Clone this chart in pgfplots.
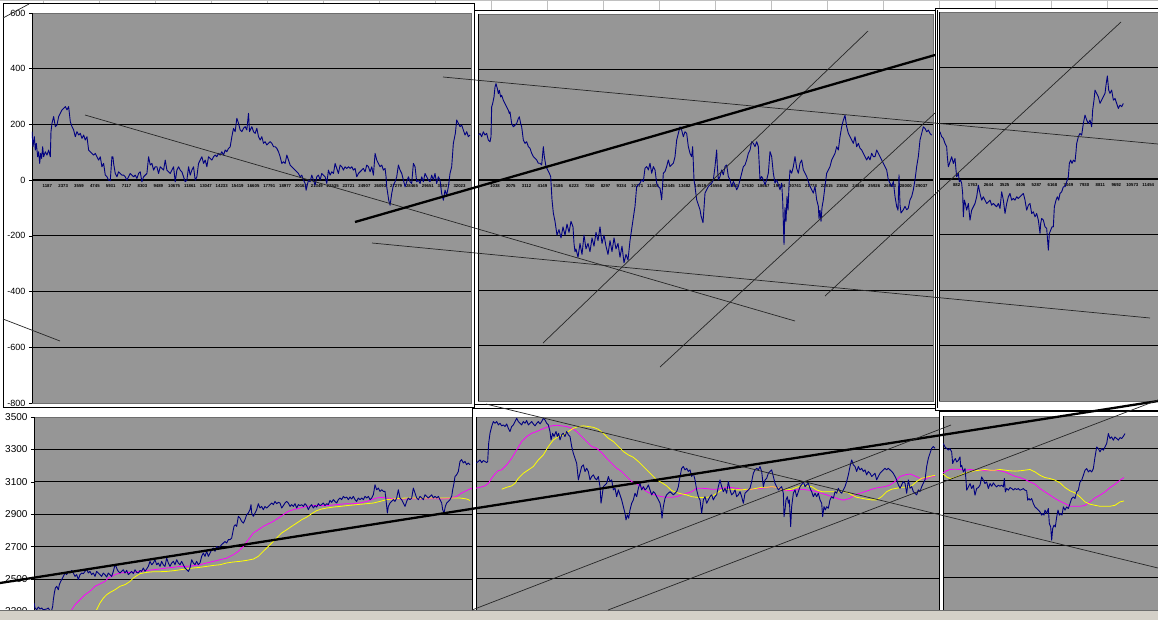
\documentclass[border=0pt]{standalone}
\usepackage{fontspec}
\setmainfont{Liberation Sans}
\usepackage{pgfplots}
\pgfplotsset{compat=1.18}
\definecolor{plotgray}{RGB}{150,150,150}
\definecolor{navyx}{RGB}{0,0,128}
\definecolor{mag}{RGB}{255,0,255}
\definecolor{yel}{RGB}{255,255,0}
\definecolor{statusbar}{RGB}{212,208,200}
\definecolor{cellgrid}{RGB}{192,192,192}
\definecolor{pborder}{RGB}{110,110,110}
\pgfplotsset{
  toppanel/.style={
    scale only axis, no markers,
    ymin=-800, ymax=600,
    axis x line*=middle, axis y line*=left,
    x axis line style={line width=2pt, black},
    y axis line style={black, line width=0.8pt},
    axis background/.style={fill=plotgray, draw=pborder},
    xtick style={draw=none},
    xticklabel style={font=\fontsize{4.3}{5}\selectfont\bfseries, inner sep=1pt},
    tick align=outside, major tick length=3pt,
    ytick style={black, line width=0.6pt},
    extra y ticks={-600,-400,-200,200,400},
    extra y tick labels={},
    extra y tick style={grid=major, major tick length=0pt},
    major grid style={black, line width=0.8pt},
    yticklabel style={font=\fontsize{9}{10}\selectfont},
  },
  botpanel/.style={
    scale only axis, no markers,
    ymin=2200, ymax=3500, xtick=\empty,
    axis x line*=bottom, x axis line style={draw=none},
    axis y line*=left, y axis line style={black, line width=0.8pt},
    axis background/.style={fill=plotgray, draw=pborder},
    tick align=outside, major tick length=3pt,
    ytick style={black, line width=0.6pt},
    extra y ticks={2500,2700,2900,3100,3300},
    extra y tick labels={},
    extra y tick style={grid=major, major tick length=0pt},
    major grid style={black, line width=0.8pt},
    yticklabel style={font=\fontsize{10}{11}\selectfont},
  },
  navyline/.style={navyx, line width=0.9pt, line join=round},
  magline/.style={mag, line width=0.8pt},
  yelline/.style={yel, line width=0.8pt},
}
\begin{document}
\begin{tikzpicture}
\useasboundingbox (0pt,0pt) rectangle (1158pt,-620pt);
\clip (0pt,0pt) rectangle (1158pt,-620pt);
\begin{scope}[x=1pt,y=1pt]
\fill[white] (0,0) rectangle (1158,-620);
\foreach \x in {43,99,...,1107} \draw[cellgrid, line width=0.8pt] (\x,0) -- (\x,-14);
\draw[cellgrid, line width=0.8pt] (0,-0.5) -- (1158,-0.5);
\filldraw[fill=white, draw=black, line width=0.8pt] (3,-3) rectangle (474,-407);
\end{scope}

% ---------- Panel 1 (top left)
\begin{axis}[toppanel, at={(32pt,-13pt)}, anchor=north west, width=439pt, height=390pt,
  xmin=95, xmax=1413,
  ytick={-800,-600,-400,-200,0,200,400,600},
  yticklabels={-800,-600,-400,-200,0,200,400,600},
  xtick={141,188.6,...,1380},
  xticklabels={1187,2373,3559,4745,5931,7117,8303,9489,10675,11861,13047,14233,15419,16605,17791,18977,20163,21349,22535,23721,24907,26093,27279,28465,29651,30837,32023}]
\addplot[navyline] coordinates {(95,174)(98,120)(102,156)(105,108)(108,132)(112,84)(115,102)(118,60)(121,96)(124,78)(127,120)(130,84)(135,102)(140,90)(145,108)(150,84)(152,174)(155,204)(160,228)(165,192)(170,198)(175,228)(180,240)(185,252)(190,258)(195,264)(200,252)(205,264)(210,210)(215,192)(220,180)(225,156)(230,174)(235,162)(240,168)(245,150)(250,162)(255,144)(260,156)(265,108)(270,102)(275,96)(280,90)(285,96)(290,84)(295,72)(300,84)(305,48)(310,60)(315,18)(320,12)(325,0)(330,-2)(335,84)(338,84)(340,60)(345,24)(350,12)(355,30)(360,24)(365,18)(370,18)(375,12)(380,0)(385,12)(390,24)(395,18)(400,12)(405,18)(410,6)(415,24)(420,30)(425,-6)(430,12)(440,24)(445,84)(450,54)(455,60)(460,36)(465,48)(470,48)(475,24)(480,48)(490,36)(495,72)(500,36)(505,30)(510,24)(515,36)(520,48)(525,-6)(530,36)(535,48)(540,36)(545,30)(550,12)(555,-6)(560,0)(565,48)(570,18)(575,36)(580,48)(585,0)(590,12)(595,60)(600,72)(605,84)(610,60)(615,72)(620,48)(625,84)(630,78)(635,72)(640,84)(645,90)(650,84)(655,96)(660,90)(665,102)(670,90)(675,108)(680,102)(685,114)(690,120)(695,156)(700,186)(705,174)(710,222)(715,204)(720,180)(725,174)(730,186)(735,192)(740,180)(745,240)(748,174)(755,192)(760,174)(765,168)(770,186)(775,156)(780,144)(785,156)(790,132)(795,138)(800,126)(805,132)(810,138)(815,132)(820,120)(825,120)(830,114)(835,102)(840,84)(845,60)(850,66)(855,60)(860,90)(865,72)(870,54)(875,48)(880,42)(885,36)(890,30)(895,24)(900,12)(905,18)(910,0)(915,-12)(918,-36)(925,0)(930,-6)(935,18)(940,0)(945,-18)(950,12)(955,18)(960,0)(965,24)(970,18)(975,12)(980,-12)(985,36)(990,18)(995,30)(1000,24)(1005,60)(1010,42)(1015,24)(1020,54)(1025,48)(1030,36)(1035,48)(1040,42)(1045,48)(1050,42)(1055,48)(1060,36)(1065,42)(1070,12)(1075,24)(1080,30)(1085,36)(1090,42)(1095,30)(1100,54)(1105,48)(1110,30)(1115,48)(1120,18)(1125,96)(1130,72)(1135,60)(1140,48)(1145,54)(1150,36)(1155,42)(1158,12)(1160,-24)(1163,-48)(1166,-72)(1170,-90)(1175,-48)(1180,-18)(1185,-6)(1190,12)(1195,54)(1200,36)(1205,24)(1210,0)(1215,-24)(1220,-6)(1225,12)(1230,-6)(1235,-12)(1240,60)(1245,48)(1250,-6)(1255,0)(1260,-12)(1265,12)(1270,-6)(1275,24)(1280,12)(1285,0)(1290,-6)(1295,18)(1300,0)(1305,24)(1310,-12)(1315,12)(1320,0)(1325,-48)(1330,-72)(1335,-36)(1340,-54)(1345,-24)(1350,24)(1355,48)(1360,132)(1363,150)(1366,168)(1370,216)(1375,204)(1380,192)(1385,198)(1390,180)(1395,162)(1400,174)(1405,156)(1410,162)};
\end{axis}

% ---------- Panel 4 (bottom left)
\fill[white] (0pt,-408pt) rectangle (472pt,-625pt);
\begin{axis}[botpanel, at={(34pt,-417pt)}, anchor=north west, width=438pt, height=210.6pt,
  xmin=102, xmax=1416,
  ytick={2300,2500,2700,2900,3100,3300,3500},
  yticklabels={2300,2500,2700,2900,3100,3300,3500}]
\addplot[magline] coordinates {(208,2290)(215,2310)(225,2341)(235,2362)(245,2382)(255,2403)(265,2417)(275,2434)(285,2455)(295,2465)(305,2475)(315,2485)(325,2506)(335,2516)(345,2527)(360,2537)(380,2541)(400,2541)(420,2547)(440,2553)(460,2557)(480,2562)(500,2568)(520,2572)(540,2578)(560,2578)(580,2582)(600,2588)(620,2599)(640,2609)(660,2619)(680,2629)(700,2650)(715,2671)(730,2701)(745,2743)(760,2784)(775,2804)(790,2825)(805,2841)(820,2856)(835,2876)(850,2897)(865,2918)(880,2928)(900,2938)(920,2948)(940,2953)(960,2953)(980,2953)(1000,2957)(1020,2961)(1040,2965)(1060,2965)(1080,2969)(1100,2979)(1115,2990)(1130,3000)(1145,3004)(1160,3000)(1180,2996)(1200,2994)(1220,2994)(1240,2996)(1260,2994)(1280,2996)(1300,2996)(1320,2994)(1340,2996)(1355,3000)(1370,3010)(1385,3031)(1395,3041)(1405,3051)(1416,3061)};
\addplot[yelline] coordinates {(285,2290)(290,2310)(300,2352)(310,2382)(320,2403)(330,2417)(345,2434)(360,2455)(375,2465)(390,2485)(400,2506)(410,2520)(420,2533)(440,2541)(460,2545)(480,2545)(500,2547)(520,2551)(540,2557)(560,2562)(580,2568)(600,2572)(620,2578)(640,2584)(660,2588)(680,2599)(700,2605)(720,2609)(740,2615)(760,2623)(775,2640)(790,2671)(800,2691)(815,2722)(830,2753)(845,2784)(860,2804)(875,2825)(890,2845)(905,2866)(920,2882)(935,2903)(950,2922)(965,2932)(980,2938)(1000,2944)(1020,2948)(1040,2953)(1060,2957)(1080,2961)(1100,2965)(1120,2969)(1140,2979)(1160,2990)(1180,2994)(1200,2998)(1220,3000)(1240,3000)(1260,2998)(1280,3000)(1300,3000)(1320,3000)(1340,3000)(1360,3000)(1380,3000)(1400,2994)(1410,2985)};
\addplot[navyline] coordinates {(102,2352)(105,2321)(110,2310)(115,2327)(120,2315)(125,2321)(130,2310)(140,2315)(145,2321)(150,2302)(155,2306)(158,2331)(160,2372)(163,2413)(166,2444)(170,2455)(175,2434)(178,2465)(182,2485)(185,2496)(190,2516)(195,2537)(200,2527)(205,2547)(210,2537)(215,2553)(220,2537)(225,2516)(230,2527)(235,2496)(240,2527)(245,2537)(250,2533)(255,2547)(260,2562)(265,2537)(270,2547)(275,2527)(280,2537)(285,2516)(290,2547)(295,2537)(300,2527)(305,2516)(310,2537)(315,2527)(320,2512)(325,2537)(330,2527)(335,2516)(340,2547)(345,2588)(348,2578)(352,2557)(355,2547)(360,2537)(365,2547)(370,2557)(375,2537)(380,2553)(385,2527)(390,2537)(395,2547)(400,2533)(405,2557)(410,2541)(415,2537)(420,2553)(425,2547)(430,2568)(435,2547)(440,2562)(445,2578)(450,2609)(455,2588)(460,2599)(465,2619)(470,2588)(475,2599)(480,2578)(485,2609)(490,2588)(495,2578)(500,2629)(505,2599)(510,2578)(515,2599)(520,2609)(525,2588)(530,2619)(535,2599)(540,2588)(545,2609)(550,2588)(555,2568)(560,2557)(565,2547)(570,2568)(575,2619)(580,2599)(585,2588)(590,2609)(595,2588)(600,2599)(605,2640)(610,2660)(615,2640)(620,2671)(625,2640)(630,2660)(635,2681)(640,2691)(645,2671)(650,2701)(655,2691)(660,2701)(665,2712)(670,2722)(675,2732)(680,2722)(685,2743)(690,2743)(695,2753)(698,2784)(702,2825)(706,2835)(710,2825)(715,2887)(720,2876)(725,2856)(730,2845)(735,2866)(740,2897)(745,2907)(750,2928)(753,2959)(755,2907)(760,2887)(765,2907)(770,2928)(775,2965)(780,2938)(785,2948)(790,2928)(795,2948)(800,2938)(805,2948)(810,2959)(815,2969)(820,2959)(825,2979)(830,2965)(835,2973)(840,2969)(845,2938)(850,2953)(855,2969)(860,2979)(865,2969)(870,2948)(875,2959)(880,2948)(885,2965)(890,2938)(895,2959)(900,2953)(905,2959)(910,2948)(915,2965)(920,2953)(925,2928)(930,2948)(935,2959)(940,2938)(945,2953)(950,2944)(955,2965)(960,2953)(965,2959)(970,2969)(975,2953)(980,2965)(985,2959)(990,2985)(995,2973)(1000,2990)(1005,2979)(1010,2969)(1015,2990)(1020,3000)(1025,2990)(1030,3010)(1035,3000)(1040,3006)(1045,2990)(1050,3006)(1055,2994)(1060,3010)(1065,2990)(1070,2979)(1075,3000)(1080,2990)(1085,3000)(1090,2990)(1095,3010)(1100,3000)(1105,3010)(1110,2990)(1115,3000)(1120,3020)(1125,3082)(1130,3051)(1135,3061)(1140,3041)(1145,3051)(1150,3041)(1155,3041)(1158,2990)(1162,2907)(1165,2948)(1170,2969)(1175,2979)(1180,2990)(1185,2979)(1190,3000)(1195,3051)(1200,3000)(1205,2990)(1210,2969)(1215,2948)(1220,2979)(1225,3000)(1230,2990)(1235,3000)(1240,3061)(1245,3031)(1250,3000)(1255,2990)(1260,3010)(1265,3000)(1270,2990)(1275,3020)(1280,3010)(1285,3000)(1290,3010)(1295,3020)(1300,3000)(1305,3010)(1310,3000)(1315,3010)(1320,2990)(1325,2969)(1328,2928)(1332,2907)(1336,2948)(1340,2969)(1345,2979)(1350,2990)(1355,3010)(1358,3051)(1362,3092)(1365,3133)(1370,3144)(1375,3164)(1380,3226)(1385,3237)(1390,3216)(1395,3226)(1400,3206)(1405,3216)(1410,3206)};
\end{axis}

% ---------- Panel 2 (top middle)
\filldraw[fill=white, draw=black, line width=0.8pt] (474pt,-10pt) rectangle (935pt,-404pt);
\begin{axis}[toppanel, at={(478pt,-14pt)}, anchor=north west, width=455pt, height=387pt,
  xmin=24, xmax=1389, ytick=\empty,
  xtick={75,122.4,...,1356},
  xticklabels={1038,2075,3112,4149,5186,6223,7260,8297,9334,10371,11408,12445,13482,14519,15556,16593,17630,18667,19704,20741,21778,22815,23852,24889,25926,26963,28000,29037}]
\addplot[navyline] coordinates {(25,162)(30,168)(35,156)(40,174)(45,162)(50,168)(55,144)(60,138)(63,156)(65,264)(68,276)(72,300)(75,336)(78,348)(82,330)(85,312)(88,324)(92,300)(95,306)(100,288)(105,276)(110,264)(115,252)(118,240)(120,246)(125,204)(130,192)(135,198)(140,204)(145,222)(148,228)(152,204)(155,192)(160,144)(165,132)(170,138)(175,120)(180,114)(185,96)(190,84)(195,78)(200,72)(205,60)(210,60)(215,54)(220,120)(223,84)(228,48)(233,36)(238,24)(242,12)(246,-72)(250,-120)(255,-150)(261,-200)(267,-180)(273,-210)(279,-170)(285,-200)(291,-160)(297,-190)(303,-150)(309,-170)(312,-230)(315,-260)(318,-250)(324,-280)(330,-230)(336,-270)(342,-200)(348,-250)(354,-230)(360,-260)(366,-210)(372,-240)(378,-190)(384,-220)(390,-170)(396,-230)(402,-200)(408,-240)(414,-270)(420,-220)(426,-260)(432,-210)(438,-250)(444,-230)(450,-280)(456,-240)(462,-300)(468,-270)(474,-290)(480,-220)(486,-170)(492,-120)(495,-96)(500,-24)(505,-18)(510,-12)(515,0)(520,-6)(525,42)(530,48)(535,36)(540,60)(545,24)(550,48)(555,36)(560,-12)(565,-24)(570,-30)(575,-72)(580,24)(585,30)(590,48)(595,72)(600,48)(605,54)(610,60)(615,84)(620,144)(625,168)(630,192)(635,180)(640,156)(645,174)(650,168)(655,120)(660,96)(665,84)(668,120)(672,0)(675,-24)(680,-72)(685,-90)(690,-108)(693,-130)(699,-155)(705,-48)(710,-36)(715,-24)(720,-18)(725,-12)(730,0)(735,48)(740,108)(742,48)(745,0)(750,12)(755,36)(760,18)(765,48)(770,54)(775,12)(780,0)(785,-24)(790,-6)(795,-18)(800,-36)(805,-24)(810,0)(815,24)(820,48)(825,54)(830,72)(835,96)(840,108)(845,138)(850,132)(855,120)(860,138)(865,120)(870,0)(875,12)(880,0)(885,-18)(890,0)(895,24)(900,102)(905,84)(910,24)(915,-12)(920,0)(925,-18)(930,-36)(935,-12)(938,-72)(942,-234)(945,-100)(948,-150)(951,-60)(954,-110)(957,-20)(960,36)(965,24)(970,48)(975,84)(980,42)(985,24)(990,60)(995,72)(1000,36)(1005,24)(1010,12)(1015,-6)(1020,-24)(1025,-36)(1030,-48)(1035,-24)(1040,-72)(1045,-96)(1047,-140)(1050,-110)(1053,-150)(1056,-100)(1060,-72)(1065,-24)(1070,24)(1075,36)(1080,48)(1085,72)(1090,84)(1095,96)(1100,120)(1105,108)(1110,156)(1115,192)(1120,216)(1125,234)(1130,192)(1135,168)(1140,156)(1145,144)(1150,132)(1155,156)(1160,120)(1165,132)(1170,114)(1175,108)(1180,96)(1185,84)(1190,72)(1195,84)(1200,72)(1205,96)(1210,84)(1215,84)(1220,108)(1225,96)(1230,84)(1235,72)(1240,60)(1245,48)(1250,36)(1255,0)(1260,-12)(1265,-24)(1270,-6)(1275,-60)(1280,-96)(1284,-110)(1287,18)(1290,-90)(1293,-120)(1300,-108)(1305,-96)(1310,-108)(1315,-102)(1320,-72)(1325,-60)(1330,-36)(1335,0)(1340,48)(1345,84)(1350,144)(1355,168)(1360,192)(1365,186)(1370,174)(1375,180)(1380,168)(1385,162)};
\end{axis}

% ---------- Panel 5 (bottom middle)
\filldraw[fill=white, draw=black, line width=0.8pt] (472pt,-408pt) rectangle (940pt,-630pt);
\begin{axis}[botpanel, at={(476pt,-417pt)}, anchor=north west, width=463pt, height=209.6pt,
  xmin=18, xmax=1407, ytick=\empty]
\addplot[magline] coordinates {(17,3058)(30,3064)(45,3073)(55,3089)(65,3120)(75,3147)(85,3168)(95,3172)(110,3203)(125,3244)(140,3296)(155,3348)(170,3379)(185,3399)(200,3410)(215,3424)(230,3436)(245,3445)(260,3449)(275,3445)(290,3441)(305,3430)(320,3410)(335,3379)(350,3348)(365,3317)(380,3306)(395,3279)(410,3244)(425,3213)(440,3182)(455,3162)(470,3131)(485,3100)(500,3085)(515,3064)(530,3037)(545,3023)(560,3013)(575,3006)(590,3002)(605,3002)(620,3006)(635,3017)(650,3027)(665,3037)(680,3058)(695,3058)(710,3056)(725,3052)(740,3052)(755,3058)(770,3062)(785,3062)(800,3058)(815,3052)(830,3048)(845,3052)(860,3056)(875,3058)(890,3062)(905,3068)(920,3064)(935,3052)(950,3044)(965,3044)(980,3048)(995,3052)(1010,3048)(1025,3044)(1040,3037)(1055,3027)(1070,3017)(1085,3006)(1100,2996)(1115,2986)(1125,2986)(1140,2996)(1155,3017)(1170,3027)(1185,3037)(1200,3048)(1215,3058)(1230,3064)(1245,3068)(1260,3079)(1275,3100)(1290,3131)(1305,3141)(1320,3147)(1335,3134)(1350,3120)(1365,3114)(1380,3127)(1395,3134)};
\addplot[yelline] coordinates {(95,3052)(110,3064)(125,3073)(135,3089)(145,3120)(160,3151)(175,3172)(190,3193)(205,3234)(220,3265)(235,3317)(250,3358)(265,3379)(280,3389)(295,3410)(310,3430)(325,3441)(340,3445)(355,3441)(370,3436)(385,3424)(400,3399)(415,3368)(430,3348)(445,3317)(460,3286)(475,3265)(490,3250)(505,3224)(520,3193)(535,3162)(550,3131)(560,3110)(575,3093)(590,3073)(605,3044)(620,3031)(635,3023)(650,3017)(665,3006)(680,3002)(695,3000)(710,3002)(725,3006)(740,3027)(755,3048)(770,3052)(785,3052)(800,3048)(815,3048)(830,3052)(845,3052)(860,3058)(875,3064)(890,3064)(905,3068)(920,3064)(935,3052)(950,3048)(965,3052)(980,3064)(995,3073)(1010,3073)(1025,3068)(1040,3048)(1055,3037)(1070,3037)(1085,3037)(1100,3035)(1115,3035)(1130,3035)(1145,3017)(1160,3002)(1175,2996)(1190,2990)(1205,2986)(1220,2986)(1235,3006)(1250,3037)(1265,3052)(1280,3058)(1295,3064)(1310,3064)(1325,3073)(1340,3100)(1355,3120)(1370,3127)(1385,3134)(1395,3138)};
\addplot[navyline] coordinates {(17,3213)(25,3224)(30,3234)(35,3217)(40,3230)(45,3224)(50,3217)(53,3224)(56,3337)(60,3399)(65,3441)(70,3472)(75,3461)(80,3472)(85,3451)(90,3461)(95,3445)(100,3451)(105,3441)(110,3457)(115,3430)(120,3410)(125,3441)(130,3451)(135,3472)(140,3492)(145,3472)(150,3461)(155,3451)(160,3472)(165,3461)(170,3478)(175,3451)(180,3461)(185,3472)(190,3457)(195,3445)(200,3461)(205,3472)(210,3457)(215,3472)(220,3492)(225,3482)(230,3461)(235,3451)(240,3410)(243,3358)(248,3399)(252,3379)(258,3410)(262,3379)(266,3399)(270,3358)(275,3389)(280,3399)(285,3379)(290,3410)(295,3389)(300,3379)(305,3317)(310,3275)(315,3244)(320,3213)(325,3110)(330,3151)(335,3193)(340,3203)(345,3162)(350,3182)(355,3162)(360,3110)(365,3131)(370,3141)(375,3120)(380,3110)(385,3131)(390,3068)(393,2965)(396,3006)(400,3068)(405,3079)(410,3089)(415,3131)(420,3100)(425,3110)(430,3048)(435,3058)(440,3006)(445,3048)(450,3017)(455,2986)(460,2944)(465,2903)(468,2862)(472,2893)(476,2872)(480,2924)(485,2965)(490,2986)(495,3027)(500,3006)(505,3058)(510,3089)(515,3048)(520,3068)(525,3048)(530,3058)(535,3079)(540,3048)(545,3017)(550,3037)(555,3027)(560,3006)(565,2986)(570,2965)(573,2934)(576,2872)(580,2944)(585,2996)(590,3017)(595,3027)(600,3037)(605,3027)(610,3017)(615,3027)(620,3037)(625,3068)(630,3131)(635,3182)(640,3193)(645,3172)(650,3182)(655,3162)(660,3172)(665,3131)(670,3151)(675,3110)(680,3048)(685,3006)(690,2986)(695,2903)(700,2986)(705,3006)(710,2965)(715,2986)(720,3006)(725,3017)(730,2986)(735,3006)(740,3017)(745,3068)(750,3110)(755,3068)(760,3037)(765,3058)(770,3027)(775,3100)(780,3048)(785,3017)(790,3027)(795,3048)(800,3006)(805,3017)(810,3037)(815,3006)(820,2965)(825,3027)(830,3037)(835,3048)(840,3058)(845,3100)(850,3151)(855,3172)(860,3182)(865,3172)(870,3193)(875,3162)(880,3068)(885,3110)(890,3120)(895,3151)(900,3162)(905,3172)(910,3131)(915,3089)(920,3068)(925,3048)(930,3058)(935,3068)(940,3027)(942,2882)(945,2924)(948,2986)(952,3006)(955,2965)(958,2986)(962,2820)(965,2944)(970,3027)(975,3048)(980,3006)(985,3037)(990,3068)(995,3079)(1000,3100)(1005,3068)(1010,3079)(1015,3089)(1020,3058)(1025,3037)(1030,3006)(1035,3027)(1040,3006)(1045,3027)(1050,2986)(1055,2965)(1058,2882)(1062,2944)(1066,2924)(1070,2944)(1075,2934)(1080,2986)(1085,3006)(1090,2996)(1095,3037)(1100,3027)(1105,3058)(1110,3037)(1115,3027)(1120,3048)(1125,3068)(1130,3100)(1135,3141)(1140,3193)(1145,3234)(1150,3203)(1155,3193)(1160,3162)(1165,3193)(1170,3172)(1175,3182)(1180,3162)(1185,3172)(1190,3141)(1195,3162)(1200,3151)(1205,3131)(1210,3141)(1215,3151)(1220,3110)(1225,3131)(1230,3151)(1235,3162)(1240,3172)(1245,3182)(1250,3172)(1255,3182)(1260,3172)(1265,3162)(1270,3151)(1275,3131)(1280,3110)(1285,3079)(1290,3058)(1295,3079)(1300,3100)(1305,3089)(1310,3027)(1315,3110)(1320,3058)(1325,3068)(1330,3037)(1335,3027)(1340,3017)(1345,3048)(1350,3037)(1355,3068)(1360,3089)(1365,3110)(1370,3193)(1375,3244)(1380,3275)(1385,3306)(1390,3317)(1395,3306)};
\end{axis}

% ---------- Panel 3 (top right)
\filldraw[fill=white, draw=black, line width=0.8pt] (935pt,-8pt) rectangle (1170pt,-410pt);
\draw[black, line width=0.6pt] (937.5pt,-10pt) -- (937.5pt,-408pt);
\begin{axis}[toppanel, at={(939pt,-12.3pt)}, anchor=north west, width=236pt, height=389pt,
  xmin=27, xmax=735, ytick=\empty,
  xtick={80,127.9,...,656},
  xticklabels={882,1763,2644,3525,4406,5287,6168,7049,7930,8811,9692,10573,11454}]
\addplot[navyline] coordinates {(30,170)(35,152)(40,146)(45,128)(50,116)(52,80)(55,44)(60,62)(65,80)(70,56)(75,74)(78,32)(80,8)(85,20)(88,-10)(92,-4)(95,-16)(98,-52)(100,-136)(103,-76)(106,-88)(110,-112)(115,-88)(120,-148)(125,-112)(130,-100)(135,-88)(140,-64)(145,-22)(150,-52)(155,-76)(160,-64)(165,-76)(170,-88)(175,-82)(180,-76)(185,-94)(190,-88)(195,-94)(200,-100)(205,-88)(210,-106)(215,-46)(220,-76)(225,-124)(230,-88)(235,-64)(240,-52)(245,-76)(250,-70)(255,-76)(260,-64)(265,-70)(270,-64)(275,-58)(280,-52)(285,-76)(290,-112)(295,-94)(300,-88)(305,-124)(310,-118)(315,-136)(320,-124)(325,-148)(330,-196)(332,-160)(335,-142)(340,-148)(345,-172)(350,-178)(355,-256)(358,-196)(362,-184)(366,-172)(370,-172)(373,-100)(378,-76)(382,-64)(386,-76)(390,-52)(395,-46)(400,-28)(405,-28)(410,-10)(415,8)(418,56)(422,68)(426,56)(430,68)(435,62)(438,98)(440,128)(445,152)(450,164)(455,158)(460,200)(465,230)(470,212)(475,200)(480,212)(485,188)(488,248)(492,284)(495,320)(500,308)(505,296)(510,272)(515,284)(520,296)(525,308)(528,338)(532,371)(536,320)(540,308)(545,320)(550,284)(555,290)(560,272)(565,254)(570,266)(575,260)(580,272)};
\end{axis}

% ---------- Panel 6 (bottom right)
\filldraw[fill=white, draw=black, line width=0.8pt] (939pt,-411pt) rectangle (1170pt,-630pt);
\begin{axis}[botpanel, at={(943pt,-416.3pt)}, anchor=north west, width=232pt, height=209.6pt,
  xmin=39, xmax=735, ytick=\empty]
\addplot[magline] coordinates {(40,3149)(50,3162)(60,3170)(75,3172)(90,3170)(105,3166)(120,3170)(135,3166)(150,3166)(165,3162)(180,3162)(195,3166)(210,3162)(225,3155)(240,3141)(255,3128)(270,3120)(285,3108)(300,3093)(315,3079)(330,3052)(345,3031)(360,3011)(375,2990)(390,2973)(405,2959)(420,2942)(435,2942)(450,2942)(465,2947)(480,2969)(495,2994)(510,3011)(525,3031)(540,3058)(555,3079)(570,3104)(582,3120)};
\addplot[yelline] coordinates {(40,3141)(50,3124)(60,3114)(75,3120)(90,3134)(105,3149)(120,3155)(135,3162)(150,3166)(165,3170)(180,3166)(195,3166)(210,3170)(225,3166)(240,3162)(255,3160)(270,3162)(285,3166)(300,3170)(315,3155)(330,3134)(345,3120)(360,3114)(375,3104)(390,3087)(405,3058)(420,3038)(435,3025)(450,3000)(465,2969)(480,2955)(495,2948)(510,2942)(525,2942)(540,2942)(555,2948)(570,2969)(582,2975)};
\addplot[navyline] coordinates {(40,3331)(45,3310)(50,3300)(55,3290)(60,3300)(65,3279)(68,3207)(72,3227)(76,3238)(80,3217)(85,3227)(90,3248)(92,3186)(95,3196)(100,3155)(105,3176)(108,3104)(110,3042)(115,3062)(120,3083)(125,3052)(130,3073)(135,3011)(140,3052)(145,3058)(150,3073)(155,3124)(160,3104)(165,3083)(170,3093)(175,3052)(180,3083)(185,3066)(190,3087)(195,3073)(200,3062)(205,3073)(210,3066)(215,3073)(220,3062)(223,3114)(226,3031)(230,3052)(235,3042)(240,3058)(245,3052)(250,3042)(255,3052)(260,3046)(265,3052)(270,3042)(275,3046)(280,3052)(285,3042)(290,3038)(293,2980)(297,2990)(300,2980)(305,2990)(310,2959)(315,2938)(320,2928)(325,2918)(330,2907)(335,2887)(338,2897)(342,2887)(345,2918)(350,2897)(355,2928)(358,2835)(362,2814)(365,2732)(368,2804)(372,2825)(376,2814)(380,2876)(384,2918)(388,2887)(392,2897)(396,2887)(400,2938)(405,2918)(410,2938)(415,2928)(420,2959)(425,2990)(430,3000)(435,2990)(440,3031)(445,3042)(450,3093)(455,3104)(460,3134)(465,3166)(470,3176)(475,3155)(480,3166)(485,3155)(490,3176)(495,3248)(500,3310)(505,3300)(510,3279)(515,3300)(520,3290)(525,3310)(530,3331)(535,3393)(540,3362)(545,3372)(550,3352)(555,3372)(560,3362)(565,3352)(570,3368)(575,3362)(580,3376)(585,3393)};
\end{axis}

% ---------- status bar
\fill[statusbar] (0pt,-611pt) rectangle (1158pt,-620pt);
\draw[pborder, line width=0.8pt] (0pt,-610.6pt) -- (1158pt,-610.6pt);

% ---------- drawn trend lines (overlay)
\begin{axis}[at={(0pt,0pt)}, anchor=north west, scale only axis, width=1158pt, height=620pt,
  xmin=0, xmax=1158, ymin=0, ymax=620, y dir=reverse, hide axis, no markers]
\addplot[black!85, line width=0.7pt] coordinates {(85,115) (795,321)};
\addplot[black!85, line width=0.7pt] coordinates {(372,243) (1150,318)};
\addplot[black!85, line width=0.7pt] coordinates {(443,77) (1158,144)};
\addplot[black!85, line width=0.7pt] coordinates {(543,343) (868,31)};
\addplot[black!85, line width=0.7pt] coordinates {(660,367) (935,113)};
\addplot[black!85, line width=0.7pt] coordinates {(825,296) (1121,22)};
\addplot[black!85, line width=0.7pt] coordinates {(3,18) (29,4)};
\addplot[black!85, line width=0.7pt] coordinates {(3,319) (60,341)};
\addplot[black, line width=2.3pt] coordinates {(355,222) (935,55)};
\addplot[black, line width=2.3pt] coordinates {(0,583) (1158,401)};
\addplot[black!85, line width=0.7pt] coordinates {(486,404) (1158,568)};
\addplot[black!85, line width=0.7pt] coordinates {(472,610) (951,425)};
\addplot[black!85, line width=0.7pt] coordinates {(608,610) (1158,400)};
\end{axis}
\end{tikzpicture}
\end{document}
